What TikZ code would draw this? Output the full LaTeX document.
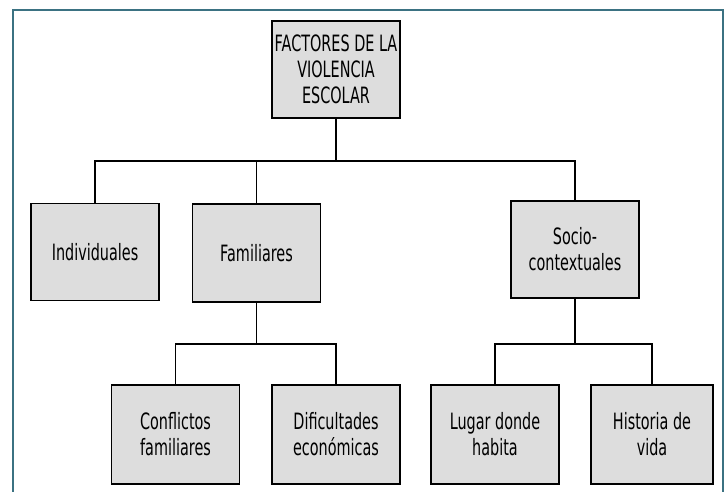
\documentclass[tikz,border=0pt]{standalone}
\usepackage{fontspec}
\setmainfont{DejaVu Sans}[FakeStretch=0.64]
\definecolor{boxfill}{HTML}{DDDDDD}
\definecolor{framecol}{HTML}{3B7282}
\begin{document}
\begin{tikzpicture}[x=1pt,y=-1pt,
  box/.style={draw=black,line width=1.8pt,fill=boxfill,minimum width=128pt,
    minimum height=97pt,inner sep=0pt,align=center,
    font=\fontsize{22.5}{26}\selectfont},
  link/.style={draw=black,line width=1.4pt},
  bus/.style={draw=black,line width=2pt},
  frame/.style={draw=framecol,line width=2pt}]
\useasboundingbox (0,0) rectangle (728,491);
\draw[frame] (13,500) -- (13,9.5) -- (723,9.5) -- (723,500);
% nodes
\node[box] (top) at (336,69.5) {FACTORES DE LA\\VIOLENCIA\\ESCOLAR};
\node[box] (ind) at (95,252) {Individuales};
\node[box,minimum height=98pt] (fam) at (256.5,253) {Familiares};
\node[box] (soc) at (575,249.5) {Socio-\\contextuales};
\node[box,minimum height=99pt] (con) at (175.5,434.5) {Conflictos\\familiares};
\node[box,minimum height=99pt] (dif) at (336,434.5) {Dificultades\\económicas};
\node[box,minimum height=99pt] (lug) at (495,434.5) {Lugar donde\\habita};
\node[box,minimum height=99pt,minimum width=122pt] (his) at (652,434.5) {Historia de\\vida};
% junctions
\coordinate (j1) at (336,161);
\coordinate (j2) at (256.5,344);
\coordinate (j3) at (575,344);
% connectors
\draw[link] (top.south) -- (j1);
\draw[bus] (ind.north) |- (j1) -| (soc.north);
\draw[link] (fam.north) -- (fam.north |- j1);
\draw[link] (fam.south) -- (j2);
\draw[link] (con.north) |- (j2) -| (dif.north);
\draw[link] (soc.south) -- (j3);
\draw[link] (lug.north) |- (j3) -| (his.north);
\end{tikzpicture}
\end{document}
